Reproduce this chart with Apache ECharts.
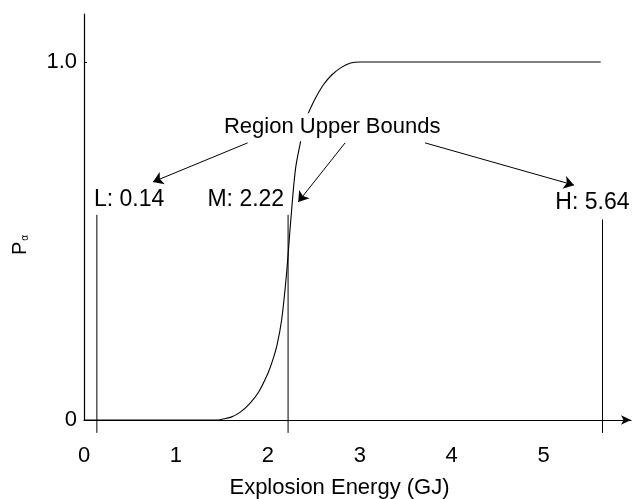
<!DOCTYPE html>
<html>
<head>
<meta charset="utf-8">
<script src="https://cdn.jsdelivr.net/npm/echarts@6/dist/echarts.min.js"></script>
<style>
html, body { margin: 0; padding: 0; background: #fff; }
#chart { width: 639px; height: 499px; }
</style>
</head>
<body>
<div id="chart"></div>
<script>
// curve
var energy = [0, 1.45, 1.5, 1.6, 1.7, 1.8, 1.9, 2.0, 2.05, 2.1, 2.15, 2.2, 2.25, 2.3, 2.35, 2.4, 2.5, 2.6, 2.7, 2.8, 2.9, 3.0, 5.62];
var prob = [0, 0, 0.002, 0.008, 0.022, 0.045, 0.078, 0.13, 0.165, 0.21, 0.28, 0.40, 0.56, 0.70, 0.77, 0.83, 0.89, 0.935, 0.965, 0.985, 0.997, 1.0, 1.0];

// region upper bounds
var boundNames = ['L', 'M', 'H'];
var boundValues = [0.14, 2.22, 5.64];
var boundTop = [0.573, 0.573, 0.56];
var boundBottom = -0.036;

// annotation anchors (data units)
var labelX = [0.49, 1.76, 5.53];
var labelY = [0.615, 0.615, 0.607];
var arrowFrom = [[1.78, 0.774], [2.84, 0.774], [3.71, 0.774]];
var arrowTo = [[0.75, 0.665], [2.33, 0.609], [5.33, 0.656]];
var headPos = [2.70, 0.818];
var headText = 'Region Upper Bounds';

var xTicks = [0, 1, 2, 3, 4, 5];
var yTicks = [0, 1];

var font = 'Liberation Sans';
var ink = '#000';

var curve = energy.map(function (e, i) { return [e, prob[i]]; });

var arrows = arrowFrom.map(function (f, i) {
    return [{ coord: f }, { coord: arrowTo[i] }];
});
var boundLabels = boundNames.map(function (n, i) {
    return { value: [labelX[i], labelY[i]], name: n + ': ' + boundValues[i].toFixed(2) };
});

// one vertical line per bound, running a little below the axis
var boundSeries = boundValues.map(function (v, i) {
    return {
        type: 'line',
        data: [[v, boundBottom], [v, boundTop[i]]],
        showSymbol: false,
        clip: false,
        silent: true,
        lineStyle: { color: ink, width: 1 }
    };
});

var myChart = echarts.init(document.getElementById('chart'));
var option = {
    animation: false,
    backgroundColor: '#fff',
    grid: { left: 84, right: 8, top: 14, bottom: 79, containLabel: false, outerBoundsMode: 'none' },
    xAxis: {
        type: 'value',
        min: 0,
        max: 5.95,
        splitLine: { show: false },
        axisLine: { lineStyle: { color: ink, width: 1.2 }, symbol: ['none', 'arrow'], symbolSize: [7, 10] },
        axisTick: { show: false },
        axisLabel: { customValues: xTicks, margin: 25, color: ink, fontSize: 22, fontFamily: font },
        name: 'Explosion Energy (GJ)',
        nameLocation: 'middle',
        nameGap: 57,
        nameTextStyle: { color: ink, fontSize: 22, fontFamily: font, padding: [0, 36, 0, 0] }
    },
    yAxis: {
        type: 'value',
        min: 0,
        max: 1.134,
        splitLine: { show: false },
        axisLine: { lineStyle: { color: ink, width: 1.2 } },
        axisTick: { customValues: [1], inside: true, length: 3, lineStyle: { color: ink } },
        axisLabel: {
            customValues: yTicks, margin: 7, color: ink, fontSize: 22, fontFamily: font,
            formatter: function (v) { return v === 0 ? '0' : v.toFixed(1); }
        },
        name: '{p|P}{a|α}',
        nameLocation: 'middle',
        nameGap: 54,
        nameTextStyle: {
            padding: [0, 56, 0, 0],
            rich: {
                p: { fontSize: 20, fontFamily: font, color: ink },
                a: { fontSize: 10, fontFamily: font, color: ink, padding: [10, 0, 0, 1] }
            }
        }
    },
    series: [
        {
            type: 'line',
            data: curve,
            smooth: 0.35,
            showSymbol: false,
            clip: false,
            lineStyle: { color: ink, width: 1.1 }
        },
        {
            type: 'line',
            data: [],
            markLine: {
                silent: true,
                symbol: ['none', 'arrow'],
                symbolSize: 10,
                label: { show: false },
                lineStyle: { color: ink, width: 1, type: 'solid' },
                data: arrows
            }
        },
        {
            type: 'scatter',
            symbolSize: 0,
            clip: false,
            itemStyle: { opacity: 1 },
            data: boundLabels,
            label: {
                show: true, position: 'inside',
                formatter: function (p) { return p.name; },
                color: ink, fontSize: 23, fontFamily: font
            }
        },
        {
            type: 'scatter',
            symbolSize: 0,
            clip: false,
            z: 10,
            itemStyle: { opacity: 1 },
            data: [{ value: headPos, name: headText }],
            label: {
                show: true, position: 'inside',
                formatter: function (p) { return p.name; },
                color: ink, fontSize: 22, fontFamily: font,
                backgroundColor: '#fff', padding: [3, 2]
            }
        }
    ].concat(boundSeries)
};
myChart.setOption(option);
</script>
</body>
</html>
